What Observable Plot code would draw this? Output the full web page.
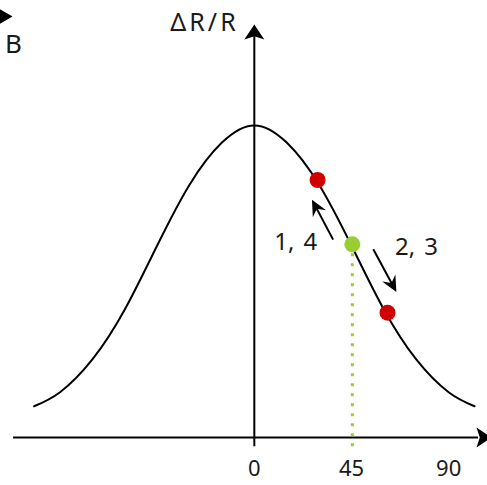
<!DOCTYPE html>
<html><head><meta charset="utf-8">
<script src="https://cdn.jsdelivr.net/npm/d3@7"></script>
<script src="https://cdn.jsdelivr.net/npm/@observablehq/plot@0.6"></script>
<style>body{margin:0;background:#fff}</style>
</head><body><div id="chart"></div>
<script>
// ---- data ----
const curveX = [-102, -90, -75, -60, -45, -30, -15, 0, 15, 30, 45, 60, 75, 90, 102];
const curveY = [0.10, 0.145, 0.25, 0.41, 0.615, 0.81, 0.945, 1.0, 0.945, 0.81, 0.615, 0.41, 0.25, 0.145, 0.10];
const redX = [29.3, 61.7];
const redY = [0.825, 0.40];
const greenX = [45.4];
const greenY = [0.619];
const xTicks = [0, 45, 90];
const arrowLabels = ["1, 4", "2, 3"];
const arrowX1 = [36.5, 55.1];
const arrowY1 = [0.634, 0.603];
const arrowX2 = [26.7, 65.8];
const arrowY2 = [0.762, 0.466];
const labelX = [19.2, 75.1];
const labelY = [0.626, 0.609];
const axisTitle = "ΔR/R";
const fieldLabel = "B";

// ---- layout ----
const W = 487, H = 485;
const mL = 12, mR = 0, mT = 25, mB = 48;
const xDomain = [-112, 108], yDomain = [0, 1.32];
const sx = d3.scaleLinear(xDomain, [mL, W - mR]);
const sy = d3.scaleLinear(yDomain, [H - mB, mT]);
const font = "'Noto Sans', sans-serif";
const red = "#d00000", green = "#9acd32", ink = "#1a1a1a";

function stealth(L, w, notch) {
  return {draw(ctx) {
    ctx.moveTo(0, 0);
    ctx.lineTo(-L, -w);
    ctx.lineTo(-L * notch, 0);
    ctx.lineTo(-L, w);
    ctx.closePath();
  }};
}

const curve = curveX.map((x, i) => ({x, y: curveY[i]}));
const reds = redX.map((x, i) => ({x, y: redY[i]}));
const greens = greenX.map((x, i) => ({x, y: greenY[i]}));
const arrows = arrowLabels.map((label, i) => {
  const px1 = sx(arrowX1[i]), py1 = sy(arrowY1[i]);
  const px2 = sx(arrowX2[i]), py2 = sy(arrowY2[i]);
  const len = Math.hypot(px2 - px1, py2 - py1);
  const ux = (px2 - px1) / len, uy = (py2 - py1) / len;
  return {
    x1: arrowX1[i], y1: arrowY1[i],
    x2: arrowX2[i], y2: arrowY2[i],
    sx2: sx.invert(px2 - ux * 8), sy2: sy.invert(py2 - uy * 8),
    angle: Math.atan2(py2 - py1, px2 - px1) * 180 / Math.PI,
    label, lx: labelX[i], ly: labelY[i]
  };
});

const yTip = sy.invert(24);
const xTip = sx.invert(491);

const plot = Plot.plot({
  width: W, height: H,
  marginLeft: mL, marginRight: mR, marginTop: mT, marginBottom: mB,
  x: {domain: xDomain, axis: null},
  y: {domain: yDomain, axis: null},
  style: {fontFamily: font, background: "#fff", color: "#000"},
  marks: [
    // axes
    Plot.ruleY([0], {x1: xDomain[0] + 0.5, x2: xTip - 6, stroke: "#000", strokeWidth: 2}),
    Plot.ruleX([0], {y1: -0.03, y2: yTip - 0.035, stroke: "#000", strokeWidth: 2}),
    Plot.dot([{x: xTip, y: 0}], {x: "x", y: "y", symbol: stealth(15, 10, 0.78), fill: "#000", stroke: null, rotate: 0}),
    Plot.dot([{x: 0, y: yTip}], {x: "x", y: "y", symbol: stealth(15, 10, 0.78), fill: "#000", stroke: null, rotate: -90}),
    Plot.text(xTicks, {x: d => d, y: 0, dy: 31, text: d => String(d), fontSize: 22, fill: ink}),
    Plot.text([axisTitle], {x: sx.invert(204), y: sy.invert(22), text: d => d, fontSize: 25, fill: ink}),
    // field arrow (cut off) and label
    Plot.dot([{x: sx.invert(12), y: sy.invert(16)}], {x: "x", y: "y", symbol: stealth(17, 10, 0.75), fill: "#000", stroke: null}),
    Plot.text([fieldLabel], {x: sx.invert(13), y: sy.invert(44), text: d => d, fontSize: 26, fill: ink}),
    // curve
    Plot.line(curve, {x: "x", y: "y", curve: "natural", stroke: "#000", strokeWidth: 2}),
    // green dotted projection
    Plot.ruleX(greens, {x: "x", y1: -0.03, y2: "y", stroke: green, strokeWidth: 3, strokeDasharray: "3,7"}),
    // points
    Plot.dot(reds, {x: "x", y: "y", r: 8, fill: red, stroke: null}),
    Plot.dot(greens, {x: "x", y: "y", r: 8, fill: green, stroke: null}),
    // small arrows
    Plot.link(arrows, {x1: "x1", y1: "y1", x2: "sx2", y2: "sy2", stroke: "#000", strokeWidth: 2}),
    Plot.dot(arrows, {x: "x2", y: "y2", rotate: "angle", symbol: stealth(16, 7.5, 0.65), fill: "#000", stroke: null}),
    Plot.text(arrows, {x: "lx", y: "ly", text: "label", fontSize: 24, fill: ink})
  ]
});
d3.select(plot).selectAll("text")
  .filter(function() { return this.textContent === axisTitle; })
  .style("letter-spacing", "3px");
d3.select(plot).selectAll("text")
  .filter(function() { return arrowLabels.includes(this.textContent); })
  .style("word-spacing", "3px");
document.getElementById("chart").appendChild(plot);
</script>
</body></html>
